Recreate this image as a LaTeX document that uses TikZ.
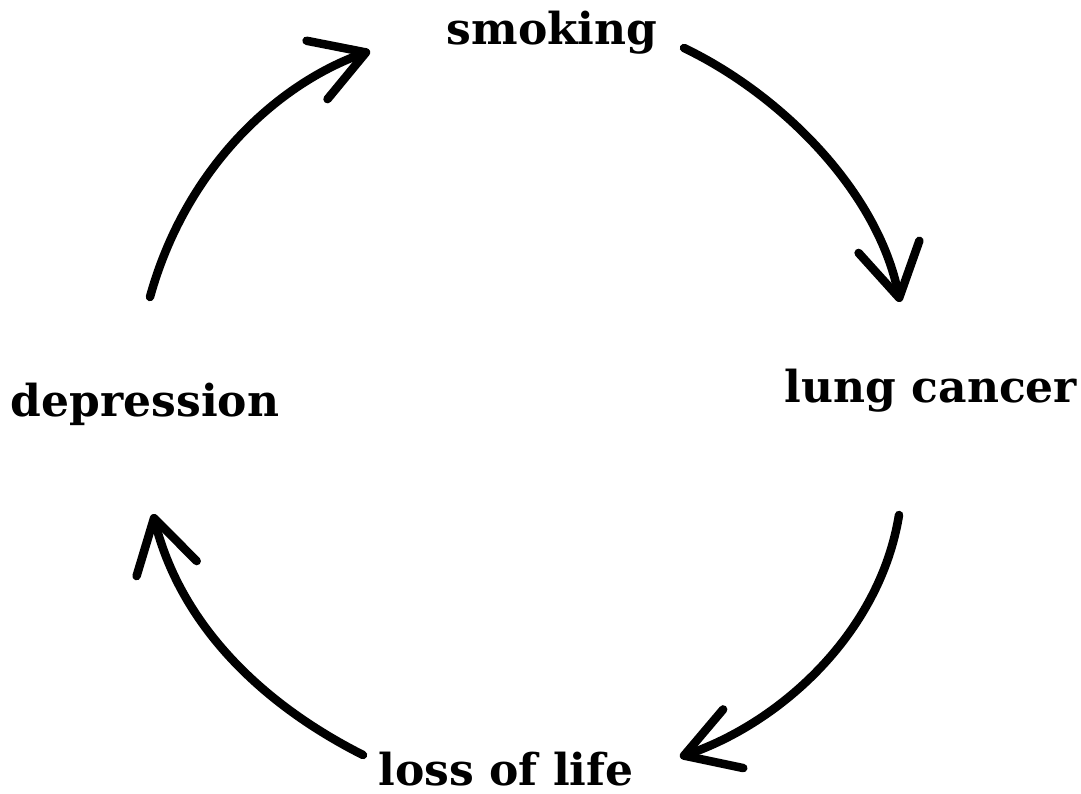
\documentclass[tikz,border=0pt]{standalone}
\usepackage{fontspec}
\setmainfont{DejaVu Serif}
\usetikzlibrary{arrows.meta}

\begin{document}
\begin{tikzpicture}[x=1pt, y=-1pt,
  cyclelabel/.style={anchor=base, inner sep=0pt, text depth=0pt, font=\fontsize{44}{50}\selectfont\bfseries},
  cyclearrow/.style={line width=8.5pt, line cap=round, -{Straight Barb[length=52pt, width=62pt, round]}}]
  \useasboundingbox (0,0) rectangle (1081,794);

  % Labels round the cycle
  \node[cyclelabel] (smoking) at (552,45) {smoking};
  \node[cyclelabel] (cancer) at (931,402) {lung cancer};
  \node[cyclelabel] (loss) at (506,785) {loss of life};
  \node[cyclelabel] (depression) at (145,416) {depression};

  % Arc ends
  \coordinate (depression-out) at (150,297);
  \coordinate (smoking-in) at (370,51);
  \coordinate (smoking-out) at (684,48);
  \coordinate (cancer-in) at (900,302);
  \coordinate (cancer-out) at (899,515);
  \coordinate (loss-in) at (680,757);
  \coordinate (loss-out) at (363,755);
  \coordinate (depression-in) at (153,514);

  % Arcs
  \draw[cyclearrow] (depression-out) .. controls (185,170) and (275,85) .. (smoking-in);
  \draw[cyclearrow] (smoking-out) .. controls (782,95) and (878,192) .. (cancer-in);
  \draw[cyclearrow] (cancer-out) .. controls (880,632) and (782,722) .. (loss-in);
  \draw[cyclearrow] (loss-out) .. controls (258,702) and (180,622) .. (depression-in);
\end{tikzpicture}
\end{document}
